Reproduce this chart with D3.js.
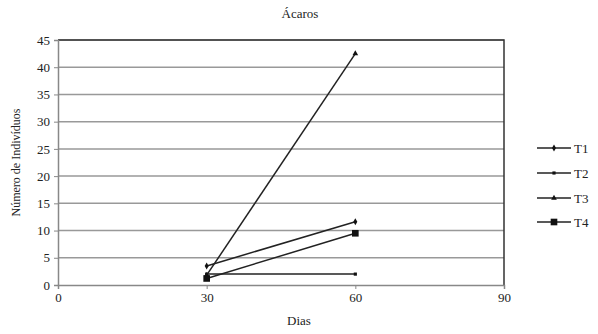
<!DOCTYPE html>
<html>
<head>
<meta charset="utf-8">
<script src="https://cdn.jsdelivr.net/npm/d3@7"></script>
<style>
body { margin: 0; background: #fff; }
text { font-family: "Liberation Serif", "DejaVu Serif", serif; fill: #222; }
</style>
</head>
<body>
<div id="chart"></div>
<script>
// data
var dias = [30, 60];
var t1 = [3.5, 11.6];
var t2 = [2.0, 2.0];
var t3 = [1.8, 42.5];
var t4 = [1.2, 9.5];
var seriesNames = ["T1", "T2", "T3", "T4"];
var xTicks = [0, 30, 60, 90];
var yTicks = [0, 5, 10, 15, 20, 25, 30, 35, 40, 45];

var width = 598, height = 334;
var margin = {top: 40, right: 94, bottom: 49, left: 58};

var svg = d3.select("#chart").append("svg")
    .attr("width", width)
    .attr("height", height);

var x = d3.scaleLinear().domain([0, 90]).range([margin.left, width - margin.right]);
var y = d3.scaleLinear().domain([0, 45]).range([height - margin.bottom, margin.top]);

// grid lines
svg.append("g").selectAll("line")
    .data(yTicks.slice(1))
    .enter().append("line")
    .attr("x1", x(0)).attr("x2", x(90))
    .attr("y1", function(d) { return y(d); })
    .attr("y2", function(d) { return y(d); })
    .attr("stroke", "#999").attr("stroke-width", 1.5);

// frame top + right
svg.append("path")
    .attr("d", "M" + x(0) + "," + y(45) + "H" + x(90) + "V" + y(0))
    .attr("fill", "none").attr("stroke", "#333").attr("stroke-width", 1.5);

// axes
var yAxis = svg.append("g")
    .attr("transform", "translate(" + x(0) + ",0)")
    .call(d3.axisLeft(y).tickValues(yTicks).tickSize(4).tickPadding(4));
var xAxis = svg.append("g")
    .attr("transform", "translate(0," + y(0) + ")")
    .call(d3.axisBottom(x).tickValues(xTicks).tickSize(4).tickPadding(4));
[xAxis, yAxis].forEach(function(a) {
    a.select(".domain").attr("stroke", "#888").attr("stroke-width", 1.5);
    a.selectAll(".tick line").attr("stroke", "#888");
    a.selectAll("text").attr("font-family", "Liberation Serif").attr("font-size", 13).attr("fill", "#222");
});

// titles
svg.append("text").attr("x", 300).attr("y", 18).attr("text-anchor", "middle")
    .attr("font-size", 13).text("Ácaros");
svg.append("text").attr("x", 299).attr("y", 325).attr("text-anchor", "middle")
    .attr("font-size", 13).text("Dias");
svg.append("text")
    .attr("transform", "translate(20," + (y(22.5)) + ") rotate(-90)")
    .attr("text-anchor", "middle").attr("font-size", 12).text("Número de Indivíduos");

var series = [t1, t2, t3, t4];
var line = d3.line().x(function(d, i) { return x(dias[i]); }).y(function(d) { return y(d); });

var symbols = [
    d3.symbol().type(d3.symbolDiamond).size(14),
    d3.symbol().type(d3.symbolSquare).size(10),
    d3.symbol().type(d3.symbolTriangle).size(14),
    d3.symbol().type(d3.symbolSquare).size(44)
];

series.forEach(function(s, k) {
    svg.append("path").datum(s)
        .attr("d", line)
        .attr("fill", "none").attr("stroke", "#222").attr("stroke-width", 1.5);
    svg.append("g").selectAll("path")
        .data(s).enter().append("path")
        .attr("transform", function(d, i) { return "translate(" + x(dias[i]) + "," + y(d) + ")"; })
        .attr("d", symbols[k])
        .attr("fill", "#111");
});

// legend
var legendY = [148, 173, 198, 222];
var lg = svg.append("g").selectAll("g")
    .data(seriesNames).enter().append("g")
    .attr("transform", function(d, i) { return "translate(537," + legendY[i] + ")"; });
lg.append("line").attr("x1", 0).attr("x2", 34).attr("stroke", "#222").attr("stroke-width", 1.5);
lg.append("path").attr("transform", "translate(17,0)")
    .attr("d", function(d, i) { return symbols[i](); }).attr("fill", "#111");
lg.append("text").attr("x", 37).attr("y", 5).attr("font-size", 13).text(function(d) { return d; });
</script>
</body>
</html>
